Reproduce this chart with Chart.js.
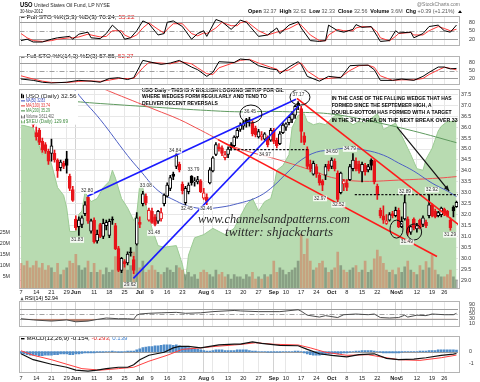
<!DOCTYPE html>
<html><head><meta charset="utf-8">
<script src="https://cdn.jsdelivr.net/npm/chart.js@4.4.1/dist/chart.umd.min.js"></script>
<style>
html,body{margin:0;padding:0;background:#fff;}
body{position:relative;width:480px;height:382px;overflow:hidden;}
canvas{position:absolute;left:0;}
</style></head><body>
<canvas id="c1" width="480" height="51" style="top:0px"></canvas>
<canvas id="c2" width="480" height="39" style="top:51px"></canvas>
<canvas id="c3" width="480" height="214" style="top:84px"></canvas>
<canvas id="c4" width="480" height="36" style="top:296px"></canvas>
<canvas id="c5" width="480" height="51" style="top:331px"></canvas>
<script>
// ---------- DATA (index 0 = 7 May 2012, trading days to 30 Nov 2012) ----------
const tickIdx = [0,5,10,15,18,24,29,34,39,43,48,53,60,63,68,73,78,83,87,92,97,102,107,112,117,123,125,130,135,139];
const tickTxt = ['7','14','21','29','Jun','11','18','25','Jul','9','16','23','Aug','6','13','20','27','Sep','10','17','24','Oct','8','15','22','Nov','5','12','19','26'];
const monthIdx = [18,39,60,83,102,123];

const openP = [37.30,37.10,36.70,36.60,36.40,35.75,35.85,35.35,35.20,34.90,
34.80,34.80,34.50,34.15,34.35,34.55,33.75,33.15,31.80,31.45,
31.55,32.05,32.80,31.25,31.75,30.80,31.55,31.00,31.50,31.05,
31.80,31.50,30.45,29.45,29.85,29.80,30.28,29.95,30.65,31.65,
32.50,32.85,31.75,32.15,31.90,31.70,31.80,32.50,32.85,33.20,
33.85,34.20,34.30,33.40,32.55,33.05,33.75,33.50,33.50,33.55,
32.75,32.80,33.45,34.00,34.75,35.10,35.05,34.60,34.75,35.20,
35.15,35.55,35.90,36.05,36.35,36.35,36.20,35.95,35.55,35.55,
35.45,35.55,35.40,35.85,35.40,35.25,35.75,36.00,36.20,36.35,
36.55,37.10,36.85,35.60,35.00,34.30,33.85,34.20,33.80,33.55,
33.80,34.30,34.20,34.45,33.90,33.00,33.40,33.45,33.60,34.10,
34.45,34.30,33.95,34.25,34.05,34.50,34.45,33.30,32.20,31.95,
31.60,31.75,32.05,31.95,32.20,31.45,31.80,31.80,31.20,31.80,
31.35,31.75,31.55,31.65,31.95,32.45,32.15,31.95,32.00,32.25,
32.15,31.75,32.35,32.37];
const highP = [37.60,37.35,37.00,36.90,36.60,36.00,35.95,35.50,35.30,35.00,
35.45,34.95,34.55,34.50,34.45,34.90,33.85,33.30,31.95,31.90,
31.95,32.60,32.82,31.80,31.85,31.30,31.60,31.80,31.75,31.80,
31.90,31.60,30.55,30.05,29.95,30.30,30.50,30.10,32.10,31.90,
33.07,32.95,32.30,32.30,32.00,32.20,32.30,32.95,33.45,33.80,
33.95,34.84,34.40,33.50,33.30,33.45,33.79,33.70,33.75,33.60,
33.20,32.95,34.15,34.65,35.30,35.25,35.15,34.90,35.10,35.30,
35.60,35.95,36.20,36.30,36.40,36.45,36.30,36.05,35.90,35.80,
35.75,35.60,35.95,35.95,35.50,35.80,36.20,36.20,36.50,36.70,
37.00,37.17,36.95,35.75,35.10,34.50,34.45,34.30,33.90,33.60,
34.30,34.45,34.60,34.55,34.00,33.95,33.60,33.60,34.30,34.79,
34.60,34.45,34.40,34.35,34.30,34.55,34.50,33.40,32.30,32.40,
32.00,32.10,32.15,32.35,32.30,31.90,32.89,31.90,31.50,31.85,
31.60,31.80,31.95,31.75,32.92,32.50,32.25,32.15,32.35,32.30,
32.20,31.85,32.40,32.62];
const lowP = [36.95,36.65,36.30,36.30,36.00,35.40,35.20,34.85,34.80,34.30,
34.45,34.40,33.70,34.00,34.10,33.90,33.10,32.60,31.30,31.05,
31.40,31.95,31.60,31.15,30.70,30.70,30.95,30.90,31.30,30.95,
31.55,30.40,29.40,29.35,29.60,29.70,30.10,29.30,30.60,31.40,
32.40,32.45,31.70,31.60,31.48,31.60,31.70,32.40,32.80,33.10,
33.60,34.10,33.95,32.95,32.45,32.95,33.35,33.30,33.40,33.00,
32.70,32.46,33.40,33.95,34.70,34.90,34.70,34.50,34.60,34.95,
35.10,35.50,35.80,35.90,36.00,36.05,35.60,35.55,35.50,35.40,
35.40,35.10,35.35,35.25,35.05,35.20,35.70,35.85,36.10,36.20,
36.40,36.80,35.30,35.20,34.10,33.95,33.80,33.70,33.35,33.10,
33.60,34.00,34.10,34.00,32.52,32.95,33.10,33.10,33.55,34.00,
34.00,33.90,33.50,33.80,33.95,34.05,33.40,32.70,31.85,31.60,
31.55,31.70,31.85,31.90,31.40,31.40,31.75,31.05,31.10,31.30,
31.20,31.35,31.45,31.40,31.85,31.90,31.85,31.90,31.90,31.95,
31.90,31.29,31.90,32.33];
const closeP = [37.20,36.90,36.55,36.50,36.10,35.55,35.30,34.95,34.90,34.45,
35.15,34.50,34.00,34.40,34.20,34.25,33.20,32.65,31.40,31.75,
31.85,32.45,31.70,31.72,30.75,31.10,31.00,31.60,31.65,31.70,
31.75,30.45,29.45,30.00,29.75,30.20,30.25,29.45,31.85,31.55,
32.95,32.55,32.20,31.65,31.55,32.15,32.10,32.90,33.35,33.70,
33.75,34.70,34.05,33.10,33.20,33.35,33.45,33.55,33.60,33.05,
33.00,32.60,34.05,34.60,35.20,35.00,34.80,34.75,35.00,35.05,
35.55,35.85,36.10,36.20,36.25,36.30,35.70,35.65,35.80,35.65,
35.70,35.20,35.85,35.35,35.15,35.70,36.10,36.15,36.45,36.60,
36.95,36.98,35.80,35.30,34.20,34.10,34.35,33.85,33.45,33.35,
34.20,34.10,34.50,34.10,32.70,33.90,33.55,33.25,34.20,34.50,
34.10,34.00,34.30,33.95,34.20,34.25,33.50,32.90,31.95,31.75,
31.72,32.00,31.95,32.20,31.45,31.70,32.55,31.15,31.45,31.40,
31.50,31.40,31.85,31.50,32.45,31.95,31.90,32.10,32.30,32.05,
31.95,31.40,32.17,32.56];
const volumeM = [11,10,12,9,10, 12,9,11,8,10, 9,7,11,6,8, 9,12,11,
15,10,8,9,12,7, 11,7,8,6,9,7,8, 14,18,10,12,8,10,16, 19,9,12,7,8,
10,8,7,6,7, 9,8,7,10,9, 8,6,7,5,6,4,7, 8,7,6, 5,8,6,7,5,6,4,
6,5,5,4,6,5,7,4, 5,4,6,5,6, 12,7,9,8, 6,7,8,9,12, 24,15,22,12,8,
9,11,12,9,7, 8,9,16,10,8, 7,8,9,10,7, 8,12,7,8,13, 17,14,11,8,7,
8,6,9,7, 9.5,12,8,7, 6,10,8,11.8,9, 14.7,8,6,5,5, 6,8,5,3.6];

const ma50 = [[8,39.6],[18,37.64],[26,36.35],[35,34.7],[39,34.04],[45,33.1],[51,32.62],[55,32.39],[60,32.28],[66,32.35],[71,32.5],[77,32.76],[82,33.2],[88,34.0],[92,34.5],[97,34.86],[102,34.95],[107,35.04],[113,34.95],[119,34.72],[124,34.36],[129,33.99],[135,33.44],[140,33.08],[143,32.83]];
const ma100 = [[0,39.3],[29,37.64],[44,36.8],[52,36.35],[59,35.86],[70,35.1],[85,34.49],[96,34.0],[102,33.7],[111,33.53],[124,33.58],[137,33.67],[143,33.74]];
const ma200 = [[0,37.1],[13,37.19],[26,37.08],[42,36.93],[59,36.78],[72,36.7],[82,36.72],[92,36.68],[102,36.6],[113,36.33],[129,35.82],[143,35.29]];
const xeu = [[0,130.8],[4,130.6],[5,130.0],[7,128.9],[8,129.3],[9,128.7],[10,128.3],[12,126.8],[14,126.3],[15,125.5],[16,124.0],[18,124.0],[19,125.1],[20,125.3],[21,126.5],[23,125.9],[25,126.1],[27,126.8],[29,127.2],[30,127.9],[31,127.4],[33,126.1],[35,125.5],[37,124.7],[38,125.1],[39,127.0],[40,126.8],[41,125.7],[43,124.2],[45,123.1],[47,123.0],[51,123.1],[53,121.9],[54,120.9],[55,122.5],[57,123.6],[60,123.8],[63,124.2],[65,124.0],[67,123.8],[70,124.2],[74,125.7],[76,126.1],[78,125.3],[80,125.9],[82,126.1],[83,126.8],[84,127.9],[86,128.2],[88,128.9],[89,130.6],[91,131.4],[93,131.5],[94,131.0],[96,130.8],[98,130.9],[100,130.8],[102,131.2],[104,131.5],[106,131.2],[109,130.8],[111,131.0],[113,130.9],[115,131.2],[117,131.5],[118,131.1],[119,130.5],[121,130.7],[123,130.9],[125,130.1],[127,129.3],[128,128.9],[130,128.0],[132,127.9],[133,128.6],[135,129.3],[137,130.4],[138,130.7],[140,131.0],[142,131.0],[143,131.1]];

const sto1K = [[0,15],[2,20],[4,10],[7,10],[10,20],[12,25],[16,30],[17,20],[19,38],[22,45],[23,25],[26,22],[28,40],[30,70],[33,40],[34,20],[36,25],[38,50],[40,85],[42,75],[45,35],[47,40],[48,80],[50,85],[53,65],[56,20],[58,40],[60,50],[61,30],[64,90],[66,82],[69,55],[71,75],[72,88],[74,80],[78,30],[81,35],[84,60],[85,40],[88,70],[91,82],[92,60],[95,15],[98,12],[100,15],[101,70],[104,50],[106,45],[109,55],[110,72],[112,62],[115,65],[117,30],[118,12],[121,15],[123,50],[124,42],[128,45],[129,25],[132,40],[134,65],[137,70],[139,50],[141,45],[143,70.24]];
const sto1D = [[0,40],[2,25],[4,15],[7,12],[10,15],[12,20],[16,25],[17,25],[19,28],[22,38],[23,35],[26,28],[28,30],[30,50],[33,50],[34,35],[36,25],[38,35],[40,60],[42,78],[45,55],[47,42],[48,55],[50,75],[53,75],[56,40],[58,32],[60,42],[61,40],[64,60],[66,80],[69,68],[71,68],[72,78],[74,84],[78,50],[81,35],[84,45],[85,48],[88,58],[91,75],[92,70],[95,35],[98,15],[100,14],[101,35],[104,55],[106,50],[109,50],[110,60],[112,65],[115,63],[117,45],[118,25],[121,14],[123,30],[124,40],[128,44],[129,35],[132,35],[134,50],[137,65],[139,58],[141,50],[143,55.22]];
const sto2K = [[0,18],[4,13],[7,6],[10,3],[15,6],[19,13],[23,10],[26,6],[29,20],[32,23],[35,16],[37,23],[40,88],[42,83],[46,73],[49,78],[52,88],[56,63],[58,53],[61,28],[63,43],[65,83],[70,80],[72,93],[75,90],[78,68],[82,56],[84,53],[85,38],[88,63],[91,83],[92,73],[94,28],[98,10],[101,28],[105,23],[108,68],[111,70],[114,70],[116,53],[118,13],[122,13],[125,18],[129,13],[132,28],[134,43],[137,63],[139,63],[141,56],[143,57.85]];
const sto2D = [[0,30],[4,18],[7,10],[10,5],[15,5],[19,9],[23,11],[26,9],[29,14],[32,20],[35,20],[37,20],[40,60],[42,80],[46,78],[49,75],[52,84],[56,75],[58,60],[61,38],[63,35],[65,60],[70,80],[72,88],[75,92],[78,78],[82,62],[84,55],[85,45],[88,52],[91,75],[92,78],[94,48],[98,18],[101,20],[105,25],[108,50],[111,68],[114,70],[116,62],[118,30],[122,13],[125,15],[129,15],[132,20],[134,35],[137,52],[139,62],[141,58],[143,52.27]];
const rsi14 = [[0,30],[4,25],[10,20],[15,25],[18,17],[22,20],[25,27],[28,33],[32,30],[35,30],[37,28],[38,45],[39,50],[42,53],[46,55],[51,57],[54,53],[59,55],[63,60],[70,65],[72,63],[78,60],[85,60],[91,68],[92,62],[94,45],[98,37],[100,43],[104,35],[106,47],[110,50],[114,47],[116,50],[118,35],[121,33],[124,35],[126,45],[127,37],[130,45],[133,43],[135,50],[139,47],[142,47],[143,52.94]];
const macdLine = [[0,-0.18],[4,-0.69],[10,-1.08],[15,-1.34],[18,-1.59],[22,-1.67],[25,-1.59],[28,-1.46],[32,-1.34],[35,-1.34],[37,-1.13],[39,-0.69],[42,-0.31],[47,-0.05],[50,0.33],[52,0.46],[55,0.46],[59,0.33],[62,0.46],[65,0.58],[70,0.66],[72,0.66],[76,0.85],[79,0.72],[85,0.54],[91,0.51],[94,0.2],[98,-0.18],[102,-0.31],[107,-0.44],[111,-0.26],[116,-0.18],[120,-0.57],[124,-0.69],[129,-0.64],[133,-0.52],[138,-0.31],[142,-0.21],[143,-0.154]];
const macdSignal = [[0,0.08],[4,-0.31],[10,-0.69],[15,-1.08],[20,-1.46],[26,-1.59],[32,-1.46],[37,-1.34],[42,-0.82],[48,-0.31],[53,0.2],[59,0.33],[64,0.46],[70,0.58],[72,0.62],[77,0.77],[83,0.64],[91,0.58],[95,0.33],[100,-0.05],[107,-0.31],[114,-0.26],[118,-0.44],[124,-0.69],[131,-0.75],[138,-0.52],[143,-0.293]];
const macdHist = [-0.15,-0.2,-0.25,-0.3,-0.3,-0.3,-0.35,-0.35,-0.3,-0.3,-0.3,-0.25,-0.25,-0.2,-0.2,-0.2,-0.25,-0.25,
-0.2,-0.2,-0.15,-0.1,-0.1,-0.1,-0.1,-0.05,-0.05,-0.05,0,0,0.05,0,-0.05,-0.05,0,0.05,0.05,0.05,0.15,
0.25,0.35,0.4,0.45,0.45,0.5,0.5,0.55,0.6,0.6,0.6,0.55,0.6,0.5,0.45,0.4,0.35,0.3,0.25,0.2,0.15,
0.1,0.05,0.05,0.1,0.15,0.15,0.15,0.1,0.1,0.1,0.1,0.15,0.15,0.15,0.15,0.1,0.05,0.05,0,0,0,-0.05,-0.05,
-0.05,-0.05,-0.05,0,0,0,0,0.05,0.05,0,-0.1,-0.2,-0.25,-0.3,-0.3,-0.3,-0.25,-0.2,-0.2,
-0.2,-0.15,-0.2,-0.15,-0.1,-0.1,-0.05,0,0.05,0.05,0.1,0.1,0.1,0.1,0.05,0,-0.05,-0.1,-0.1,-0.1,-0.1,
-0.1,-0.1,-0.05,0,0,0,0,0,0.05,0.05,0.05,0.1,0.1,0.1,0.15,0.15,0.15,0.15,0.15,0.15,0.14];

// annotation geometry in data units [dayIndex, price]
const blueWedge = [[21.8,32.84,90.3,37.28],[36.9,29.09,91.3,37.0]];
const redChannel = [[90.6,37.32,143.8,31.53],[64.7,35.43,136.6,30.09]];
const dashLevels = [[68.6,94.1,34.97],[109.6,143.5,32.92]];
const arrowLine = [123.5,36.0,140.6,33.08];
const circles = [[75.5,36.6],[91.6,37.37],[123.3,31.34],[129.1,31.21]];
const priceTags = [['32.80',21.7,33.08],['31.83',18.4,30.84],['29.62',35.8,28.79],['33.08',41,33.34],['31.48',43.7,31.16],['34.84',50.6,34.92],['33.79',56.6,34.04],['32.45',54.4,32.29],['32.46',60.8,32.29],['36.45',75.2,36.72],['37.17',91.1,37.47],['34.97',80.1,34.74],['34.60',102,34.86],['34.79',108,35.0],['32.52',104.2,32.45],['32.97',98.2,32.74],['32.89',126.1,33.06],['32.92',134.9,33.14],['31.49',126.7,30.75],['31.29',140.9,31.08]];
const note1 = ['USO Daily - THIS IS A BULLISH LOOKING SETUP FOR OIL','WHERE WEDGES FORM REGULARLY AND TEND TO','DELIVER DECENT REVERSALS'];
const note2 = ['IN THE CASE OF THE FALLING WEDGE THAT HAS','FORMED SINCE THE SEPTEMBER HIGH, A','DOUBLE-BOTTOM HAS FORMED WITH A TARGET','IN THE 34.7 AREA ON THE NEXT BREAK OVER 33'];
const watermark = ['www.channelsandpatterns.com','twitter: shjackcharts'];

// ---------- STYLE / HELPERS ----------
const FONT = '"Liberation Sans", Arial, sans-serif';
Chart.defaults.font.family = FONT;
const circleR = [[11,9],[10,8],[6.5,9],[7.5,8]];
const note1Pos = [[39.7,37.70,142],[39.7,37.39,125],[39.7,37.07,76]];
const note2Pos = [[102,37.31,120],[102,36.98,100],[102,36.67,120],[102,36.33,126]];
const wmPos = [[58.1,31.75,152],[67.0,31.18,108]];

function fitText(ctx, txt, x, y, w, font, color){
  ctx.save(); ctx.font = font; ctx.fillStyle = color; ctx.textBaseline = 'middle'; ctx.textAlign = 'left';
  const m = ctx.measureText(txt).width || 1;
  ctx.translate(x, y); ctx.scale(w / m, 1); ctx.fillText(txt, 0, 0); ctx.restore();
}
function fitSegs(ctx, segs, x, y, w){
  ctx.save(); ctx.textBaseline = 'middle'; ctx.textAlign = 'left';
  let tot = 0; const ws = segs.map(s => { ctx.font = s[1]; const m = ctx.measureText(s[0]).width; tot += m; return m; });
  ctx.translate(x, y); ctx.scale(w / tot, 1); let cx = 0;
  segs.forEach((s, k) => { ctx.font = s[1]; ctx.fillStyle = s[2]; ctx.fillText(s[0], cx, 0); cx += ws[k]; });
  ctx.restore();
}
function xAxis(labels, pad){
  return {type:'linear', axis:'x', min:-0.5, max:143.5, offset:false,
    afterBuildTicks: s => { s.ticks = tickIdx.map(v => ({value:v})); },
    afterFit: s => { s.height = labels ? 10 : 0; },
    ticks:{display:labels, autoSkip:false, maxRotation:0, minRotation:0, padding:pad, color:'#222',
      font: c => ({size:5.6, weight: (c.tick && monthIdx.includes(c.tick.value)) ? 'bold' : 'normal'}),
      callback: v => { const k = tickIdx.indexOf(v); return k < 0 ? '' : tickTxt[k]; }},
    grid:{offset:false, drawTicks:false, color: c => (c.tick && monthIdx.includes(c.tick.value)) ? '#d2d2d2' : '#e7e7e7'},
    border:{display:false}};
}
function yAxis(min, max, vals, fmt, grid){
  return {axis:'y', position:'right', min, max, beginAtZero:false,
    afterBuildTicks: s => { s.ticks = vals.map(v => ({value:v})); },
    afterFit: s => { s.width = 22; },
    ticks:{color:'#333', padding:3, autoSkip:false, font:{size:5.3}, callback: fmt},
    grid: grid ? {color:'#e7e7e7', drawTicks:false} : {display:false}, border:{display:false}};
}
function panelPlugin(o){
  return {id:'panel', 
    beforeDatasetsDraw(chart){
      const {ctx, chartArea:a, scales:{y}} = chart; ctx.save(); ctx.lineWidth = 1;
      (o.solid||[]).forEach(v => { const py = Math.round(y.getPixelForValue(v)) + 0.5; ctx.strokeStyle = '#9c9c9c'; ctx.setLineDash([]); ctx.beginPath(); ctx.moveTo(a.left, py); ctx.lineTo(a.right, py); ctx.stroke(); });
      (o.dash||[]).forEach(v => { const py = Math.round(y.getPixelForValue(v)) + 0.5; ctx.strokeStyle = '#a0a0a0'; ctx.setLineDash([5,2,1,2]); ctx.beginPath(); ctx.moveTo(a.left, py); ctx.lineTo(a.right, py); ctx.stroke(); });
      ctx.restore();
    },
    afterDatasetsDraw(chart){
      const {ctx, chartArea:a} = chart;
      if (o.draw) o.draw(chart);
      ctx.save(); ctx.strokeStyle = '#b4b4b4'; ctx.lineWidth = 1; ctx.setLineDash([]);
      ctx.strokeRect(Math.round(a.left) - 0.5, Math.round(a.top) - 0.5, Math.round(a.right - a.left) + 1, Math.round(a.bottom - a.top) + 1);
      ctx.restore();
    }};
}
const opts = (padding, scales) => ({responsive:false, animation:false, devicePixelRatio:1, events:[], layout:{padding},
  plugins:{legend:{display:false}, tooltip:{enabled:false}}, scales});
const lineDS = (pts, color, w, yID, order, extra) => Object.assign({type:'line', data: pts.map(p => ({x:p[0], y:p[1]})),
  borderColor:color, borderWidth:w, pointRadius:0, tension:0, fill:false, xAxisID:'x', yAxisID:yID, order}, extra || {});
const legendIcon = (ctx, x, y, c) => { ctx.save(); ctx.fillStyle = c; ctx.fillRect(x, y - 0.7, 3.5, 1.4); ctx.restore(); };

// ---------- CHART 1 : header + Full STO (5,3) ----------
new Chart(document.getElementById('c1'), {type:'line',
  data:{datasets:[lineDS(sto1K,'#000',1,'y',0), lineDS(sto1D,'#ff3a3a',1,'y',1)]},
  options: opts({top:16.7, bottom:1, left:19.5, right:0}, {x:xAxis(false,0), y:yAxis(0,100,[20,50,80],v=>String(v),false)}),
  plugins:[panelPlugin({solid:[20,80], dash:[50], draw(chart){
    const ctx = chart.ctx;
    fitText(ctx,'USO',20,5.2,12.5,'bold 8px '+FONT,'#000');
    fitText(ctx,'United States Oil Fund, LP NYSE',34,5.6,76,'5.2px '+FONT,'#222');
    fitText(ctx,'30-Nov-2012',20,11.7,23,'4.8px '+FONT,'#222');
    fitText(ctx,'@StockCharts.com',417,4.6,43,'4.8px '+FONT,'#777');
    const B = 'bold 5.4px '+FONT, N = '5.4px '+FONT;
    fitSegs(ctx,[['Open ',B,'#000'],['32.37  ',N,'#555'],['High ',B,'#000'],['32.62  ',N,'#555'],['Low ',B,'#000'],['32.33  ',N,'#555'],
      ['Close ',B,'#000'],['32.56  ',N,'#555'],['Volume ',B,'#000'],['3.6M  ',N,'#555'],['Chg ',B,'#000'],['+0.39 (+1.21%) ',N,'#555']],248,11.7,208);
    ctx.save(); ctx.fillStyle='#000'; ctx.beginPath(); ctx.moveTo(458,13); ctx.lineTo(460,10.2); ctx.lineTo(462,13); ctx.closePath(); ctx.fill(); ctx.restore();
    legendIcon(ctx,21,17,'#000');
    fitSegs(ctx,[['Full STO %K(5,3) %D(3) 70.24, ','5.6px '+FONT,'#000'],['55.22','5.6px '+FONT,'#e02020']],26.5,17,108);
  }})]});

// ---------- CHART 2 : Full STO (14,3) ----------
new Chart(document.getElementById('c2'), {type:'line',
  data:{datasets:[lineDS(sto2K,'#000',1,'y',0), lineDS(sto2D,'#ff3a3a',1,'y',1)]},
  options: opts({top:5, bottom:0.7, left:19.5, right:0}, {x:xAxis(false,0), y:yAxis(0,100,[20,50,80],v=>String(v),false)}),
  plugins:[panelPlugin({solid:[20,80], dash:[50], draw(chart){
    const ctx = chart.ctx;
    legendIcon(ctx,21,5.8,'#000');
    fitSegs(ctx,[['Full STO %K(14,3) %D(3) 57.85, ','5.6px '+FONT,'#000'],['52.27','5.6px '+FONT,'#e02020']],26.5,5.8,107);
  }})]});

// ---------- CHART 3 : main price panel ----------
const upDay = closeP.map((c,i) => i === 0 ? c >= openP[0] : c >= closeP[i-1]);
const candleCol = upDay.map(u => u ? '#000000' : '#e8141a');
const bodyFill = closeP.map((c,i) => c > openP[i] ? '#ffffff' : candleCol[i]);
const volCol = upDay.map(u => u ? 'rgba(60,64,60,0.38)' : 'rgba(225,60,40,0.36)');

new Chart(document.getElementById('c3'), {type:'bar',
  data:{datasets:[
    lineDS(xeu,'#9ccb94',1,'fxAxis',10,{fill:'start', backgroundColor:'#b8dbb1'}),
    {type:'bar', data: volumeM.map((v,i) => ({x:i, y:v})), xAxisID:'x', yAxisID:'volAxis', backgroundColor: volCol, barThickness:2, grouped:false, order:9},
    lineDS(ma200,'#5f9a5f',1,'y',7,{tension:0.4}),
    lineDS(ma100,'#f05050',1,'y',6,{tension:0.4}),
    lineDS(ma50,'#4d5fc4',1,'y',5,{tension:0.4}),
    {type:'bar', data: closeP.map((c,i) => ({x:i, y:[lowP[i], highP[i]]})), xAxisID:'x', yAxisID:'y', backgroundColor: candleCol, barThickness:1, grouped:false, order:3, minBarLength:1},
    {type:'bar', data: closeP.map((c,i) => ({x:i, y:[openP[i], c]})), xAxisID:'x', yAxisID:'y', backgroundColor: bodyFill, borderColor: candleCol, borderWidth:1, borderSkipped:false, barThickness:3, grouped:false, order:2, minBarLength:1}
  ]},
  options: opts({top:6, bottom:0, left:0, right:0}, {
    x: xAxis(true,1.5),
    y: yAxis(28.648, 37.69, [29,29.5,30,30.5,31,31.5,32,32.5,33,33.5,34,34.5,35,35.5,36,36.5,37,37.5], v => v.toFixed(1), true),
    volAxis: {axis:'y', type:'linear', position:'left', min:0, max:88.4, afterBuildTicks: s => { s.ticks = [5,10,15,20,25].map(v => ({value:v})); },
      afterFit: s => { s.width = 19.5; }, ticks:{color:'#333', padding:1.5, autoSkip:false, font:{size:5.3}, callback: v => v + 'M'},
      grid:{display:false}, border:{display:false}},
    fxAxis: {axis:'y', type:'linear', position:'right', display:false, min:120.4, max:133.0}
  }),
  plugins:[panelPlugin({draw(chart){
    const {ctx, chartArea:a, scales:{x, y}} = chart;
    const X = v => x.getPixelForValue(v), Y = v => y.getPixelForValue(v);
    ctx.save();
    ctx.beginPath(); ctx.rect(a.left, a.top, a.right - a.left, a.bottom - a.top); ctx.clip();
    const seg = (l, c, w, d) => { ctx.strokeStyle = c; ctx.lineWidth = w; ctx.setLineDash(d || []); ctx.beginPath(); ctx.moveTo(X(l[0]), Y(l[1])); ctx.lineTo(X(l[2]), Y(l[3])); ctx.stroke(); };
    blueWedge.forEach(l => seg(l, '#1a1aff', 1.6));
    redChannel.forEach(l => seg(l, '#ff1a1a', 1.6));
    dashLevels.forEach(d => seg([d[0], d[2], d[1], d[2]], '#111', 1.3, [2.2, 1.6]));
    seg(arrowLine, '#111', 1.2);
    const ax = X(arrowLine[2]), ay = Y(arrowLine[3]);
    const ang = Math.atan2(ay - Y(arrowLine[1]), ax - X(arrowLine[0]));
    ctx.fillStyle = '#111'; ctx.beginPath(); ctx.moveTo(ax, ay);
    ctx.lineTo(ax - 6 * Math.cos(ang - 0.4), ay - 6 * Math.sin(ang - 0.4));
    ctx.lineTo(ax - 6 * Math.cos(ang + 0.4), ay - 6 * Math.sin(ang + 0.4)); ctx.closePath(); ctx.fill();
    ctx.setLineDash([]); ctx.strokeStyle = '#111'; ctx.lineWidth = 1;
    circles.forEach((c, k) => { ctx.beginPath(); ctx.ellipse(X(c[0]), Y(c[1]), circleR[k][0], circleR[k][1], 0, 0, Math.PI * 2); ctx.stroke(); });
    ctx.restore();
    ctx.save();
    priceTags.forEach(t => {
      const cx = X(t[1]), cy = Y(t[2]);
      ctx.fillStyle = 'rgba(255,255,255,0.85)'; ctx.fillRect(cx - 7, cy - 2.8, 14, 5.6);
      fitText(ctx, t[0], cx - 6, cy, 12, '4.8px ' + FONT, '#333');
    });
    ctx.restore();
    note1.forEach((t, k) => fitText(ctx, t, X(note1Pos[k][0]), Y(note1Pos[k][1]), note1Pos[k][2], 'bold 6px ' + FONT, '#000'));
    note2.forEach((t, k) => fitText(ctx, t, X(note2Pos[k][0]), Y(note2Pos[k][1]), note2Pos[k][2], 'bold 6px ' + FONT, '#000'));
    watermark.forEach((t, k) => fitText(ctx, t, X(wmPos[k][0]), Y(wmPos[k][1]), wmPos[k][2], 'italic 12px "Liberation Serif", serif', '#2a2a2a'));
    ctx.save();
    ctx.fillStyle = '#fff'; ctx.fillRect(a.left + 0.5, a.top + 0.5, 58, 34);
    ctx.fillStyle = '#000'; ctx.fillRect(a.left + 1.5, a.top + 3.5, 1.4, 4.5); ctx.fillRect(a.left + 3.3, a.top + 4.5, 1.2, 3.5);
    fitText(ctx, 'USO (Daily) 32.56', a.left + 6, a.top + 5.7, 51, '6.2px ' + FONT, '#222');
    const lg = [['MA(50) 32.83', '#3344bb', 19, 10.7], ['MA(100) 33.74', '#e03030', 24, 15.7], ['MA(200) 35.29', '#3e8a3e', 24, 20.7], ['Volume 3,611,402', '#555', 28, 26.7], ['$XEU (Daily) 129.69', '#3e8a3e', 42, 31.7]];
    lg.forEach((l, k) => {
      if (k < 3) { ctx.fillStyle = l[1]; ctx.fillRect(a.left + 1.5, a.top + l[3] - 0.5, 4, 1); }
      else { ctx.fillStyle = k === 3 ? '#777' : '#7fb477'; ctx.fillRect(a.left + 1.5, a.top + l[3] - 1.5, 1, 3); ctx.fillRect(a.left + 3, a.top + l[3] - 0.5, 1, 2); ctx.fillRect(a.left + 4.5, a.top + l[3] - 2, 1, 3.5); }
      fitText(ctx, l[0], a.left + 6.5, a.top + l[3], l[2], '4.6px ' + FONT, l[1]);
    });
    ctx.restore();
  }})]});

// ---------- CHART 4 : RSI(14) ----------
new Chart(document.getElementById('c4'), {type:'line',
  data:{datasets:[lineDS(rsi14,'#4a4a4a',1,'y',0,{fill:{target:{value:30}, above:'rgba(0,0,0,0)', below:'#b98472'}})]},
  options: opts({top:2.4, bottom:0.4, left:19.5, right:0}, {x:xAxis(false,0), y:yAxis(0,100,[10,30,50,70,90],v=>String(v),false)}),
  plugins:[panelPlugin({solid:[30,70], dash:[50], draw(chart){
    const ctx = chart.ctx;
    ctx.save(); ctx.fillStyle = '#555'; ctx.beginPath(); ctx.moveTo(20.5,4.2); ctx.lineTo(22,1); ctx.lineTo(23.5,4.2); ctx.closePath(); ctx.fill(); ctx.restore();
    fitText(ctx,'RSI(14) 52.94',25,2.5,33,'5.6px '+FONT,'#000');
  }})]});

// ---------- CHART 5 : MACD ----------
new Chart(document.getElementById('c5'), {type:'bar',
  data:{datasets:[
    lineDS(macdLine,'#111',1.2,'y',0),
    lineDS(macdSignal,'#ff4040',1,'y',1),
    {type:'bar', data: macdHist.map((v,i) => ({x:i, y:v})), xAxisID:'x', yAxisID:'y', backgroundColor:'#4f8cc9', barThickness:2, grouped:false, order:2}
  ]},
  options: opts({top:2, bottom:0, left:19.5, right:0}, {x:xAxis(true,3.5), y:yAxis(-1.75,1.25,[-1,0],v=>String(v),false)}),
  plugins:[panelPlugin({solid:[0], draw(chart){
    const ctx = chart.ctx;
    legendIcon(ctx,21,7.7,'#000');
    const f = '5.6px '+FONT;
    fitSegs(ctx,[['MACD(12,26,9) -0.154, ',f,'#000'],['-0.293, ',f,'#e02020'],['0.139',f,'#3a7fd0']],26.5,7.7,101);
  }})]});
</script>
</body></html>
